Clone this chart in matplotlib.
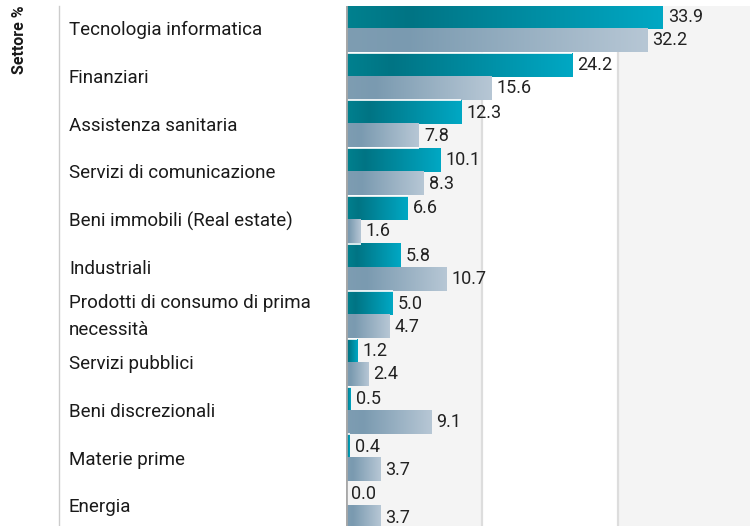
import numpy as np
import matplotlib
matplotlib.use("Agg")
import matplotlib.pyplot as plt
from matplotlib.colors import LinearSegmentedColormap
from matplotlib.lines import Line2D
from matplotlib.transforms import blended_transform_factory

plt.rcParams['font.family'] = ['Roboto', 'DejaVu Sans']

sectors = ['Tecnologia informatica', 'Finanziari', 'Assistenza sanitaria',
           'Servizi di comunicazione', 'Beni immobili (Real estate)', 'Industriali',
           'Prodotti di consumo di prima\nnecessità', 'Servizi pubblici',
           'Beni discrezionali', 'Materie prime', 'Energia']
fund = [33.9, 24.2, 12.3, 10.1, 6.6, 5.8, 5.0, 1.2, 0.5, 0.4, 0.0]
index = [32.2, 15.6, 7.8, 8.3, 1.6, 10.7, 4.7, 2.4, 9.1, 3.7, 3.7]
axis_label = 'Settore %'

teal_cmap = LinearSegmentedColormap.from_list(
    'teal', [(0, '#00818f'), (0.2, '#007484'), (1, '#00a8c4')])
grey_cmap = LinearSegmentedColormap.from_list(
    'greyblue', [(0, '#7e9db2'), (0.2, '#7a9ab0'), (1, '#b7c7d5')])

W, H = 750, 526
fig = plt.figure(figsize=(W / 100, H / 100), dpi=100)
ax = fig.add_axes([346 / W, 0, 1 - 346 / W, 1 - 5.5 / H])

xmax = 404 / 9.35
bh = 0.485
grad = np.linspace(0, 1, 256).reshape(1, -1)

# background bands + grid
ax.axvspan(0, 14.55, color='#f4f4f4', zorder=0, lw=0)
ax.axvspan(29.1, xmax, color='#f4f4f4', zorder=0, lw=0)
for gx in [14.55, 29.1]:
    ax.axvline(gx, color='#dddddd', lw=1.6, zorder=1)

for i, (f, b) in enumerate(zip(fund, index)):
    if f > 0:
        ax.imshow(grad, extent=[0, f, i, i - bh], aspect='auto', cmap=teal_cmap,
                  interpolation='bicubic', zorder=2)
    if b > 0:
        ax.imshow(grad, extent=[0, b, i + bh, i], aspect='auto', cmap=grey_cmap,
                  interpolation='bicubic', zorder=2)
    off = 5 / 9.35
    ax.text(f + off, i - bh / 2, f'{f:.1f}', va='center', ha='left',
            fontsize=13, color='#222222', zorder=4)
    ax.text(b + off, i + bh / 2, f'{b:.1f}', va='center', ha='left',
            fontsize=13, color='#222222', zorder=4)
    # white gap between groups
    if i < len(sectors) - 1:
        ax.hlines(i + 0.5, 0, min(b, fund[i + 1]), color='white', lw=1.2, zorder=3)

ax.axvline(0, color='#a8a8a8', lw=2, zorder=5)

ax.set_xlim(0, xmax)
ax.set_ylim(10.42, -0.49)
ax.axis('off')

# category labels
tr = blended_transform_factory(fig.transFigure, ax.transData)
for i, s in enumerate(sectors):
    ax.text(69 / W, i + 0.03, s, transform=tr, ha='left', va='center', fontsize=13.5,
            color='#1a1a1a', linespacing=1.6, clip_on=False)

fig.text(20 / W, 1 - 5 / H, axis_label, rotation=90, ha='center', va='top',
         fontsize=11.5, fontweight='bold', color='#1a1a1a')
fig.add_artist(Line2D([59 / W, 59 / W], [0, 1 - 6 / H], color='#cccccc', lw=1))

fig.savefig('out.png', dpi=100)
